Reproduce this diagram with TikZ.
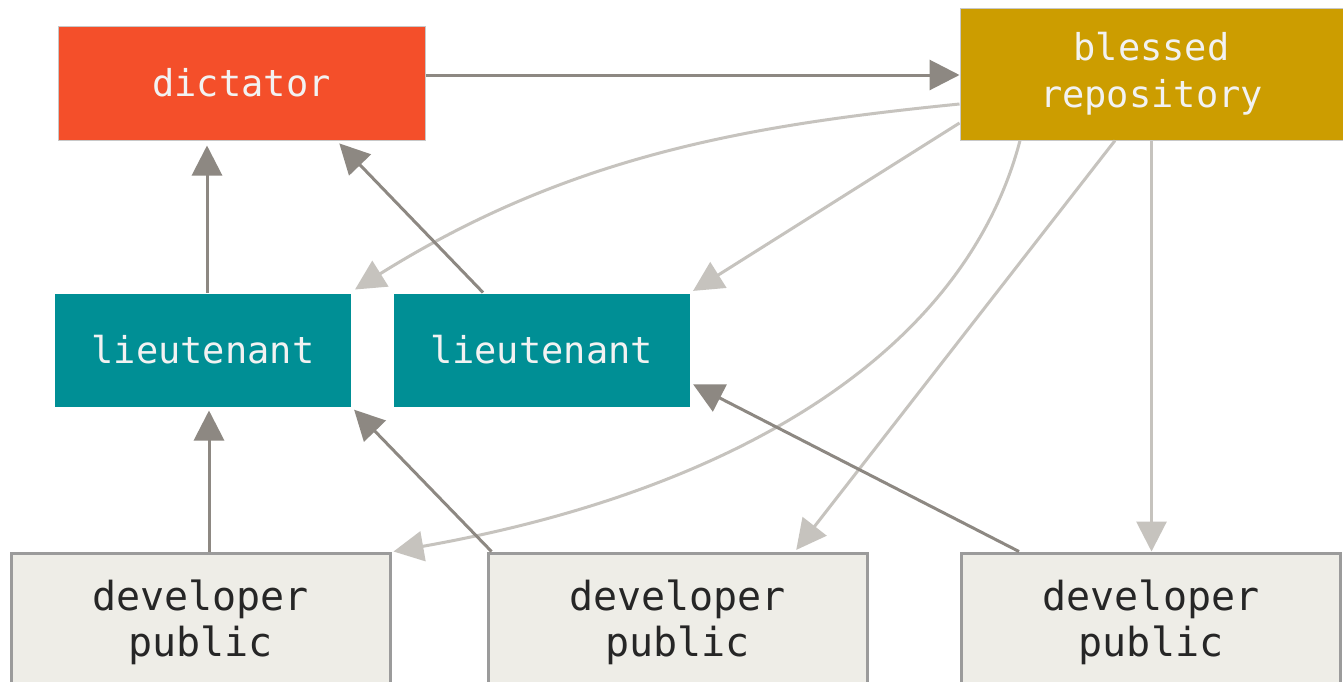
\documentclass[tikz,border=0pt]{standalone}
\usepackage{fontspec}
\setmonofont{DejaVu Sans Mono}
\usetikzlibrary{arrows.meta}
\definecolor{dictc}{HTML}{F44F2A}
\definecolor{blessc}{HTML}{CC9D00}
\definecolor{ltc}{HTML}{008F95}
\definecolor{devc}{HTML}{EEEDE7}
\definecolor{devborder}{HTML}{9B9B9B}
\definecolor{darkc}{HTML}{8D8882}
\definecolor{lightc}{HTML}{C6C3BE}
\definecolor{boxedge}{HTML}{C8C8C8}
\definecolor{txtc}{HTML}{F2F2F2}
\tikzset{
  basebox/.style={rectangle, inner sep=0pt, align=center,
    font=\ttfamily\fontsize{37}{47}\selectfont, text=txtc},
  dictbox/.style={basebox, fill=dictc, draw=boxedge, line width=1pt,
    minimum width=367pt, minimum height=114pt},
  blessbox/.style={basebox, fill=blessc, draw=boxedge, line width=1pt,
    minimum width=383pt, minimum height=132pt},
  ltbox/.style={basebox, fill=ltc, draw=white, line width=1pt,
    minimum width=297pt, minimum height=114pt},
  devbox/.style={basebox, fill=devc, draw=devborder, line width=3pt,
    minimum width=379pt, minimum height=138pt, text=black!85,
    font=\ttfamily\fontsize{40}{46}\selectfont},
  dark/.style={draw=darkc, line width=3pt, -{Triangle[length=30pt,width=30pt]}},
  light/.style={draw=lightc, line width=3pt, -{Triangle[length=30pt,width=30pt]}}
}
\begin{document}
\begin{tikzpicture}[x=1pt,y=-1pt]
\clip (0,0) rectangle (1343,681);
\fill[white] (0,0) rectangle (1343,681);

\node[dictbox] (dict) at (241.5,83) {dictator};
\node[blessbox] (bless) at (1151.5,74) {blessed\\repository};
\node[ltbox] (l1) at (203,350) {lieutenant};
\node[ltbox] (l2) at (541.5,350) {lieutenant};
\node[devbox] (d1) at (200.5,622) {developer\\public};
\node[devbox] (d2) at (677.5,622) {developer\\public};
\node[devbox] (d3) at (1151,622) {developer\\public};

% light connectors (from blessed repository)
\draw[light] ([yshift=-30pt]bless.west) .. controls (750,125) and (570,155) .. ([xshift=3pt,yshift=3pt]l1.north east);
\draw[light, shorten >=3pt] ([yshift=-49pt]bless.west) -- (l2.north east);
\draw[light] ([xshift=-131.5pt]bless.south) .. controls (965,350) and (740,490) .. ([xshift=2pt]d1.north east);
\draw[light, shorten >=2pt] ([xshift=-36.5pt]bless.south) -- ([xshift=117.5pt]d2.north);
\draw[light] (bless.south) -- (bless.south |- d3.north);

% dark connectors
\draw[dark] ([yshift=8pt]dict.east) -- ([yshift=8pt]dict.east -| bless.west);
\draw[dark, shorten >=5pt] ([xshift=4pt]l1.north) -- ([xshift=4pt]l1.north |- dict.south);
\draw[dark, shorten >=4pt] ([xshift=-58.5pt]l2.north) -- ([xshift=-89pt]dict.south east);
\draw[dark, shorten >=3pt] ([xshift=8.5pt]d1.north) -- ([xshift=8.5pt]d1.north |- l1.south);
\draw[dark, shorten >=3pt] ([xshift=5pt]d2.north west) -- (l1.south east);
\draw[dark, shorten >=3pt] ([xshift=59pt]d3.north west) -- ([yshift=-33pt]l2.east);
\end{tikzpicture}
\end{document}
